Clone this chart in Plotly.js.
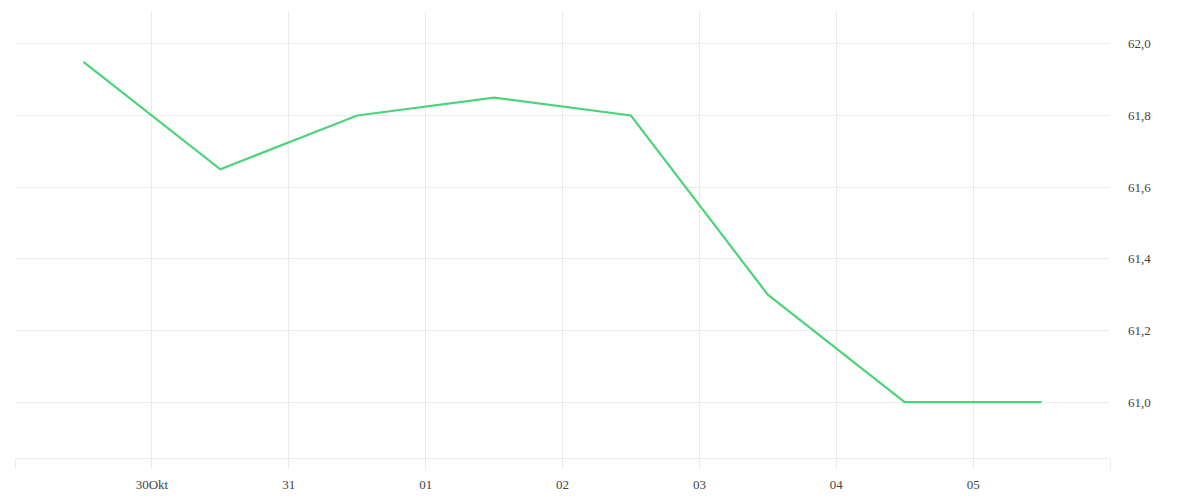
<!DOCTYPE html>
<html>
<head>
<meta charset="utf-8">
<script src="https://cdn.plot.ly/plotly-3.0.1.min.js"></script>
<style>
  html, body { margin: 0; padding: 0; background: #fff; }
  #chart { width: 1200px; height: 500px; }
</style>
</head>
<body>
<div id="chart"></div>
<script>
// daily values, plotted at midday
var dates = ['2023-10-29 12:00', '2023-10-30 12:00', '2023-10-31 12:00', '2023-11-01 12:00',
             '2023-11-02 12:00', '2023-11-03 12:00', '2023-11-04 12:00', '2023-11-05 12:00'];
var values = [61.95, 61.65, 61.8, 61.85, 61.8, 61.3, 61.0, 61.0];

// day ticks (edges carry no label)
var tickDays = ['2023-10-29', '2023-10-30', '2023-10-31', '2023-11-01', '2023-11-02',
                '2023-11-03', '2023-11-04', '2023-11-05', '2023-11-06'];
var tickLabels = ['', '30Okt', '31', '01', '02', '03', '04', '05', ''];

function plot_line(divId) {
    var trace = {x: dates, y: values, type: 'scatter', mode: 'lines',
                 line: {color: '#4cd47b', width: 2.2}, hoverinfo: 'x+y'};
    var tickFont = {family: 'Liberation Serif, serif', size: 13, color: '#444'};
    var layout = {
        width: 1200, height: 500,
        margin: {l: 15, r: 90, t: 12, b: 42, pad: 0},
        showlegend: false,
        paper_bgcolor: '#fff', plot_bgcolor: '#fff',
        separators: ',.',
        xaxis: {type: 'date', range: ['2023-10-29', '2023-11-06'],
                tickmode: 'array', tickvals: tickDays, ticktext: tickLabels,
                showgrid: true, gridcolor: '#ebebeb', gridwidth: 1,
                ticks: 'outside', ticklen: 10, tickcolor: '#ebebeb', tickwidth: 1,
                showline: true, linecolor: '#ebebeb', linewidth: 1,
                zeroline: false, tickfont: tickFont, ticklabelstandoff: 4},
        yaxis: {side: 'right', range: [60.844, 62.089], tick0: 61, dtick: 0.2,
                tickformat: '.1f', showgrid: true, gridcolor: '#ebebeb', gridwidth: 1,
                ticks: '', showline: false, zeroline: false,
                tickfont: tickFont, ticklabelstandoff: 17}
    };
    Plotly.newPlot(divId, [trace], layout, {displayModeBar: false, staticPlot: true});
}

plot_line('chart');
</script>
</body>
</html>
